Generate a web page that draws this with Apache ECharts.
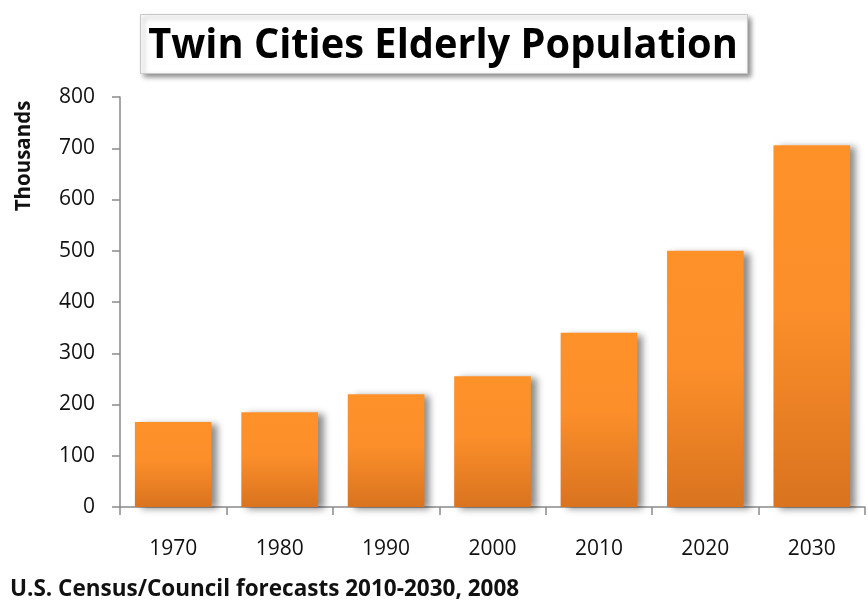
<!DOCTYPE html>
<html><head><meta charset="utf-8">
<script src="https://cdn.jsdelivr.net/npm/echarts@6/dist/echarts.min.js"></script>
<style>html,body{margin:0;padding:0;background:#fff}#c{width:868px;height:604px}</style>
</head><body><div id="c"></div>
<script>
var categories = ['1970','1980','1990','2000','2010','2020','2030'];
var values = [166, 185, 220, 255, 340, 500, 706];
var yTicks = {min: 0, max: 800, interval: 100};
var titleText = 'Twin Cities Elderly Population';
var yAxisName = 'Thousands';
var sourceText = 'U.S. Census/Council forecasts 2010-2030, 2008';

var chart = echarts.init(document.getElementById('c'));
var font = '"Open Sans", "Noto Sans", sans-serif';
chart.setOption({
  animation: false,
  backgroundColor: '#fff',
  grid: {left: 120, right: 3, top: 97, bottom: 97},
  xAxis: {
    type: 'category', data: categories,
    axisLine: {lineStyle: {color: '#8a8a8a', width: 1.5}},
    axisTick: {show: true, length: 8, lineStyle: {color: '#8a8a8a', width: 1.5}},
    axisLabel: {color: '#111', fontSize: 21, fontFamily: font, margin: 32}
  },
  yAxis: {
    type: 'value', min: yTicks.min, max: yTicks.max, interval: yTicks.interval,
    splitLine: {show: false},
    axisLine: {show: true, lineStyle: {color: '#8a8a8a', width: 1.5}},
    axisTick: {show: true, length: 8, lineStyle: {color: '#8a8a8a', width: 1.5}},
    axisLabel: {color: '#111', fontSize: 21, fontFamily: font, margin: 25}
  },
  series: [{
    type: 'bar', data: values, barCategoryGap: '28%',
    itemStyle: {
      color: new echarts.graphic.LinearGradient(0, 0, 0, 1, [
        {offset: 0, color: '#ff9129'},
        {offset: 0.45, color: '#fc8f2a'},
        {offset: 1, color: '#d9731f'}
      ]),
      shadowColor: 'rgba(0,0,0,0.45)', shadowBlur: 7, shadowOffsetX: 6, shadowOffsetY: 2
    }
  }],
  graphic: [
    {type: 'rect', left: 140, top: 14, shape: {width: 607, height: 59},
      style: {fill: '#fff', stroke: '#c8c8c8', lineWidth: 1, shadowColor: 'rgba(0,0,0,0.45)', shadowBlur: 5, shadowOffsetX: 3, shadowOffsetY: 3}},
    {type: 'text', x: 443, y: 46, scaleX: 0.97, style: {text: titleText, fontSize: 41, fontWeight: 'bold', fontFamily: font, fill: '#000', align: 'center', verticalAlign: 'middle'}},
    {type: 'text', x: 24, y: 156, rotation: Math.PI / 2, style: {text: yAxisName, fontSize: 20.5, fontWeight: 'bold', fontFamily: font, fill: '#111', align: 'center', verticalAlign: 'middle'}},
    {type: 'text', x: 10, y: 590, style: {text: sourceText, fontSize: 22.5, fontWeight: 'bold', fontFamily: font, fill: '#111', verticalAlign: 'middle'}}
  ]
});
</script></body></html>
